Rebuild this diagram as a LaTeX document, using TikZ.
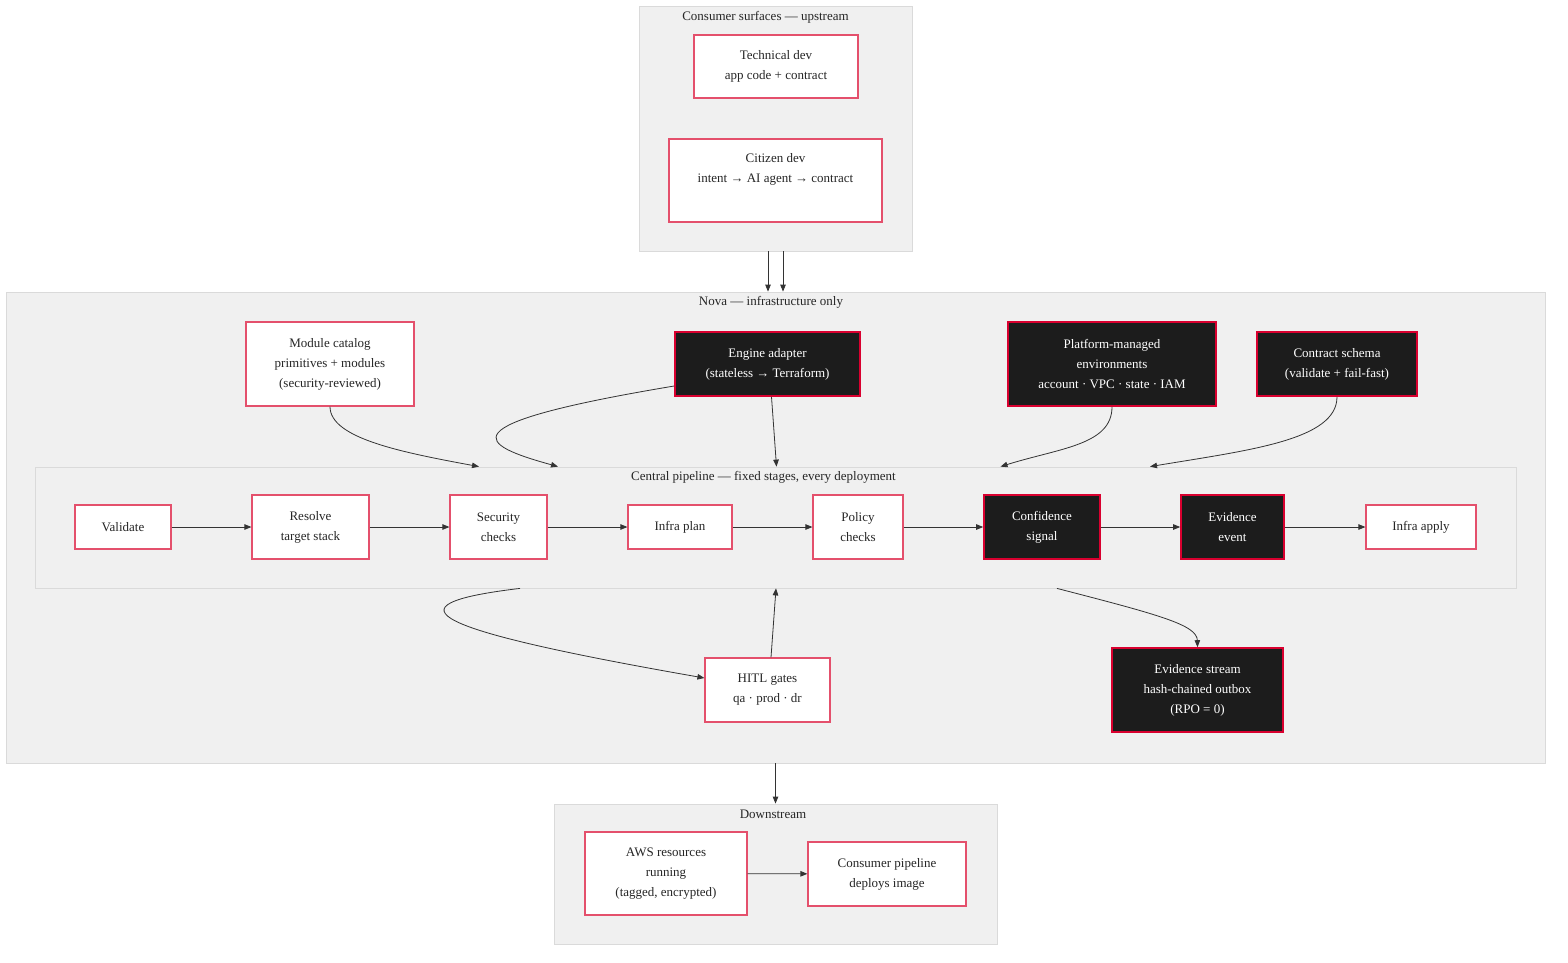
\documentclass[tikz,border=0pt]{standalone}
\usepackage{fontspec}
\setmainfont{Liberation Serif}
\usetikzlibrary{arrows.meta}

\definecolor{clusterfill}{HTML}{F0F0F0}
\definecolor{clusterline}{HTML}{DADADA}
\definecolor{lightline}{HTML}{E4506C}
\definecolor{darkline}{HTML}{D9002F}
\definecolor{darkfill}{HTML}{1C1C1C}
\definecolor{flowline}{HTML}{333333}

\begin{document}
\begin{tikzpicture}[x=1pt, y=-1pt,
    cluster/.style={draw=clusterline, fill=clusterfill, line width=0.8pt, inner sep=0pt},
    title/.style={font=\fontsize{13}{20}\selectfont, text=black!85, inner sep=0pt},
    boxsize/.style 2 args={minimum width=#1pt, minimum height=#2pt},
    lightbox/.style={draw=lightline, fill=white, line width=1.2pt, align=center, inner sep=0pt,
        font=\fontsize{13}{20}\selectfont, text=black!85},
    darkbox/.style={lightbox, draw=darkline, fill=darkfill, text=white, line width=1.6pt},
    flow/.style={draw=flowline, line width=0.8pt, -{Triangle[length=7pt,width=5.5pt]}}
  ]
    \useasboundingbox (0,0) rectangle (1568,962);

    % clusters
    \node[cluster, boxsize={273}{245}] (consumer) at (775.5,128.5) {};
    \node[cluster, boxsize={1539}{471}] (nova) at (775.5,527.5) {};
    \node[cluster, boxsize={1481}{121}] (central) at (775.5,527.5) {};
    \node[cluster, boxsize={443}{140}] (down) at (775.5,874) {};

    \node[title] (consumertitle) at (765.5,17) {Consumer surfaces — upstream};
    \node[title] (novatitle) at (771,302) {Nova — infrastructure only};
    \node[title] (centraltitle) at (763.5,477) {Central pipeline — fixed stages, every deployment};
    \node[title] (downtitle) at (773,814) {Downstream};

    % consumer surfaces
    \node[lightbox, boxsize={164}{63}] (tech) at (776,66.5) {Technical dev\\app code + contract};
    \node[lightbox, boxsize={213}{83}] (citizen) at (775.5,180.5) {Citizen dev\\intent → AI agent → contract\\\strut};

    % nova inputs
    \node[lightbox, boxsize={168}{84}] (module) at (330,364) {Module catalog\\primitives + modules\\(security-reviewed)};
    \node[darkbox, boxsize={185}{64}] (engine) at (767.5,364) {Engine adapter\\(stateless → Terraform)};
    \node[darkbox, boxsize={208}{84}] (platform) at (1112,364) {Platform-managed\\environments\\account · VPC · state · IAM};
    \node[darkbox, boxsize={160}{64}] (contract) at (1337,364) {Contract schema\\(validate + fail-fast)};

    % pipeline stages
    \node[lightbox, boxsize={96}{44}] (validate) at (123,527) {Validate};
    \node[lightbox, boxsize={117}{64}] (resolve) at (310.5,527) {Resolve\\target stack};
    \node[lightbox, boxsize={97}{64}] (security) at (498.5,527) {Security\\checks};
    \node[lightbox, boxsize={104}{44}] (plan) at (680,527) {Infra plan};
    \node[lightbox, boxsize={90}{64}] (policy) at (858,527) {Policy\\checks};
    \node[darkbox, boxsize={116}{64}] (confidence) at (1042,527) {Confidence\\signal};
    \node[darkbox, boxsize={103}{64}] (evidence) at (1232.5,527) {Evidence\\event};
    \node[lightbox, boxsize={110}{44}] (apply) at (1421,527) {Infra apply};

    % below the pipeline
    \node[lightbox, boxsize={125}{64}] (hitl) at (767.5,690) {HITL gates\\qa · prod · dr};
    \node[darkbox, boxsize={171}{84}] (stream) at (1197.5,690) {Evidence stream\\hash-chained outbox\\(RPO = 0)};

    % downstream
    \node[lightbox, boxsize={162}{83}] (aws) at (666,873.5) {AWS resources\\running\\(tagged, encrypted)};
    \node[lightbox, boxsize={158}{64}] (cpipe) at (887,874) {Consumer pipeline\\deploys image};

    % ends on the pipeline border
    \coordinate (cin1) at ([xshift=-296.5pt]central.north);
    \coordinate (cin2) at ([xshift=-217.5pt]central.north);
    \coordinate (cin3) at ([xshift=1pt]central.north);
    \coordinate (cin4) at ([xshift=225pt]central.north);
    \coordinate (cin5) at ([xshift=374.5pt]central.north);
    \coordinate (cout1) at ([xshift=-255.5pt]central.south);
    \coordinate (cout2) at ([xshift=281.5pt]central.south);

    \draw[flow] ([xshift=-7.5pt]consumer.south) -- ([xshift=-7.5pt]nova.north);
    \draw[flow] ([xshift=7.5pt]consumer.south) -- ([xshift=7.5pt]nova.north);

    \draw[flow] (module.south) .. controls (330,438) and (400,452) .. (cin1);
    \draw[flow] ([yshift=-22pt]engine.west) .. controls (440,425) and (480,445) .. (cin2);
    \draw[flow] ([xshift=4pt]engine.south) -- (cin3);
    \draw[flow] (platform.south) .. controls (1112,445) and (1060,448) .. (cin4);
    \draw[flow] (contract.south) .. controls (1337,440) and (1250,450) .. (cin5);

    \draw[flow] (validate) -- (resolve);
    \draw[flow] (resolve) -- (security);
    \draw[flow] (security) -- (plan);
    \draw[flow] (plan) -- (policy);
    \draw[flow] (policy) -- (confidence);
    \draw[flow] (confidence) -- (evidence);
    \draw[flow] (evidence) -- (apply);

    \draw[flow] (cout1) .. controls (380,605) and (430,630) .. ([yshift=12pt]hitl.west);
    \draw[flow] ([xshift=3.5pt]hitl.north) -- ([xshift=0.5pt]central.south);
    \draw[flow] (cout2) .. controls (1160,615) and (1197,625) .. (stream.north);

    \draw[flow] (nova.south) -- (down.north);
    \draw[flow] (aws) -- (cpipe);
  \end{tikzpicture}
\end{document}
